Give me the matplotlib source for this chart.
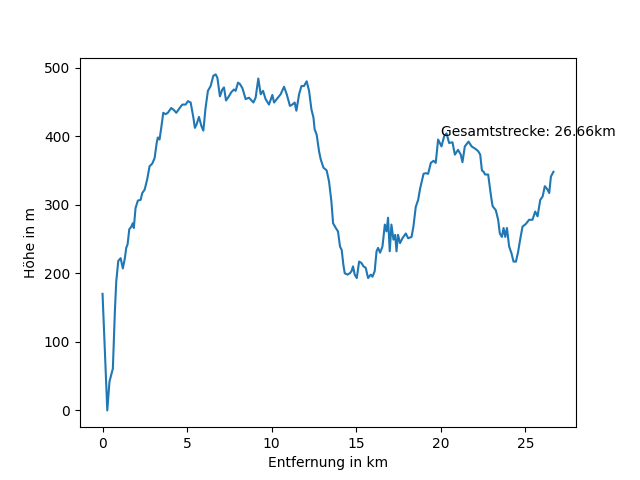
import matplotlib
matplotlib.use("Agg")
import matplotlib.pyplot as plt

# distance along the track (km) and elevation (m), read from the profile
distance = [
    0.00, 0.28, 0.41, 0.61, 0.73, 0.81, 0.93, 1.07, 1.20, 1.32, 1.40, 1.48,
    1.58, 1.70, 1.79, 1.85, 1.95, 2.09, 2.25, 2.35, 2.49, 2.64, 2.78, 2.94,
    3.08, 3.20, 3.27, 3.37, 3.47, 3.59, 3.73, 3.86, 4.06, 4.22, 4.36, 4.56,
    4.72, 4.91, 5.05, 5.21, 5.37, 5.46, 5.56, 5.70, 5.84, 5.96, 6.09, 6.23,
    6.39, 6.55, 6.69, 6.79, 6.94, 7.08, 7.18, 7.30, 7.47, 7.61, 7.77, 7.87,
    8.01, 8.12, 8.27, 8.46, 8.66, 8.92, 9.05, 9.21, 9.35, 9.49, 9.64, 9.84,
    10.04, 10.14, 10.37, 10.53, 10.73, 10.89, 11.08, 11.22, 11.36, 11.46,
    11.62, 11.76, 11.91, 12.07, 12.21, 12.35, 12.47, 12.54, 12.66, 12.80,
    12.90, 13.06, 13.25, 13.39, 13.53, 13.63, 13.79, 13.92, 14.04, 14.14,
    14.24, 14.32, 14.48, 14.62, 14.72, 14.81, 14.91, 15.03, 15.17, 15.31,
    15.43, 15.56, 15.70, 15.86, 15.96, 16.09, 16.20, 16.29, 16.41, 16.55,
    16.69, 16.79, 16.88, 16.98, 17.08, 17.20, 17.30, 17.38, 17.47, 17.59,
    17.73, 17.93, 18.07, 18.27, 18.38, 18.52, 18.66, 18.78, 18.98, 19.11,
    19.25, 19.41, 19.57, 19.70, 19.84, 20.04, 20.20, 20.34, 20.49, 20.69,
    20.83, 21.02, 21.18, 21.28, 21.42, 21.64, 21.82, 22.07, 22.21, 22.33,
    22.43, 22.53, 22.62, 22.80, 22.96, 23.06, 23.25, 23.39, 23.49, 23.61,
    23.71, 23.81, 23.91, 24.04, 24.18, 24.30, 24.44, 24.57, 24.69, 24.83,
    25.03, 25.22, 25.42, 25.58, 25.72, 25.88, 26.02, 26.15, 26.31, 26.41,
    26.51, 26.66,
]
elevation = [
    170, 0, 42, 61, 145, 188, 218, 222, 207, 222, 237, 242,
    264, 268, 273, 266, 295, 306, 307, 317, 322, 337, 356, 360,
    368, 390, 398, 395, 412, 434, 432, 434, 441, 438, 434, 441,
    446, 446, 451, 449, 427, 412, 417, 428, 415, 408, 441, 466,
    473, 488, 490, 485, 458, 468, 471, 452, 458, 464, 468, 466,
    478, 476, 470, 454, 456, 449, 456, 484, 461, 466, 454, 446,
    460, 449, 456, 461, 472, 461, 444, 446, 449, 437,
    461, 473, 473, 480, 466, 439, 427, 410, 402, 378,
    366, 354, 350, 334, 305, 273, 266, 261, 239, 234,
    212, 200, 198, 200, 203, 210, 198, 193, 217, 215,
    210, 208, 193, 198, 195, 203, 232, 237, 230, 239,
    271, 261, 281, 232, 271, 249, 256, 232, 256, 244,
    251, 258, 251, 253, 268, 297, 307, 324, 345, 346,
    345, 361, 364, 361, 395, 385, 400, 404, 390, 391,
    373, 380, 373, 362, 385, 392, 385, 381, 378, 373,
    350, 348, 344, 344, 314, 298, 292, 278, 258, 253,
    266, 253, 266, 239, 229, 217, 217, 231, 249, 268,
    272, 278, 278, 290, 283, 307, 312, 327, 322, 317,
    341, 348,
]

total_km = 26.66

plt.figure(figsize=(6.4, 4.8), dpi=100)
plt.plot(distance, elevation)
plt.text(20, 400, f"Gesamtstrecke: {total_km:.2f}km")
plt.xlabel("Entfernung in km")
plt.ylabel("Höhe in m")

plt.savefig("out.png", dpi=100)
